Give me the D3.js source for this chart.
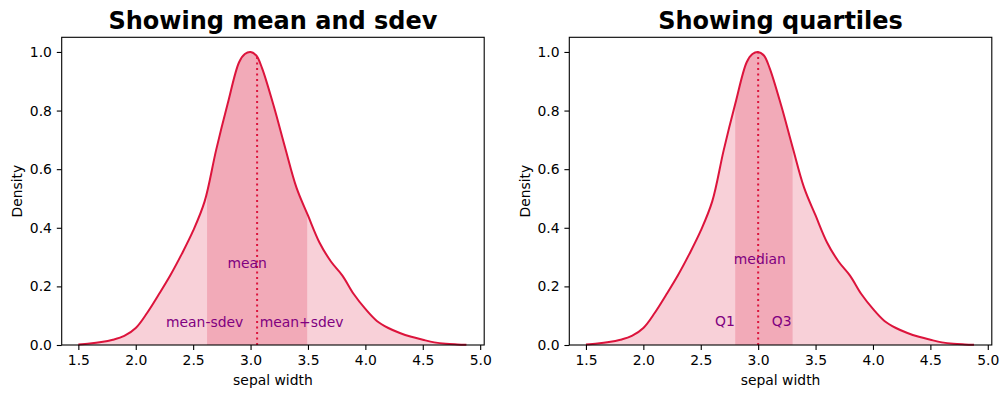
<!DOCTYPE html>
<html>
<head>
<meta charset="utf-8">
<script src="https://cdn.jsdelivr.net/npm/d3@7"></script>
<style>
  body { margin: 0; background: #fff; }
  text { font-family: "DejaVu Sans", sans-serif; }
</style>
</head>
<body>
<script>
// kde of sepal width, scaled so the peak is 1
const sepalX = [1.5, 1.6, 1.7, 1.8, 1.9, 2.0, 2.1, 2.2, 2.3, 2.4, 2.5, 2.6, 2.7, 2.8, 2.9, 2.95,
  3.0, 3.05, 3.1, 3.2, 3.3, 3.4, 3.5, 3.6, 3.7, 3.8, 3.9, 4.0, 4.1, 4.2, 4.3, 4.4, 4.5, 4.6, 4.7, 4.8, 4.88];
const density = [0.002, 0.005, 0.010, 0.018, 0.031, 0.058, 0.110, 0.172, 0.237, 0.310, 0.390, 0.490, 0.665, 0.822, 0.965, 0.993,
  1.000, 0.988, 0.945, 0.818, 0.675, 0.537, 0.442, 0.350, 0.285, 0.237, 0.173, 0.123, 0.082, 0.058, 0.041, 0.028, 0.018, 0.009, 0.004, 0.002, 0.001];

const xTicks = [1.5, 2.0, 2.5, 3.0, 3.5, 4.0, 4.5, 5.0];
const yTicks = [0.0, 0.2, 0.4, 0.6, 0.8, 1.0];

const meanVal = 3.057, sdevVal = 0.436;
const medianVal = 3.0, q1Val = 2.8, q3Val = 3.3;

const titles = ["Showing mean and sdev", "Showing quartiles"];
const bands = [[meanVal - sdevVal, meanVal + sdevVal], [q1Val, q3Val]];
const centres = [meanVal, medianVal];
const centreHeights = [0.985, 1.0];
const labelText = [["mean", "mean-sdev", "mean+sdev"], ["median", "Q1", "Q3"]];
const labelX = [[2.97, 2.60, 3.445], [3.015, 2.71, 3.205]];
const labelY = [[0.264, 0.061, 0.061], [0.275, 0.065, 0.065]];

const W = 1007, H = 398;
const panelLeft = [61.7, 569.3];
const plotTop = 37.3, pw = 422.5, ph = 307.7;
const crimson = "#dc143c";

const kde = sepalX.map((d, i) => ({x: d, y: density[i]}));

const svg = d3.select("body").append("svg")
  .attr("width", W).attr("height", H);
svg.append("rect").attr("width", W).attr("height", H).attr("fill", "#fff");

titles.forEach((title, p) => {
  const g = svg.append("g").attr("transform", "translate(" + panelLeft[p] + "," + plotTop + ")");

  const x = d3.scaleLinear().domain([1.355, 5.035]).range([0, pw]);
  const y = d3.scaleLinear().domain([0, 1.05]).range([ph, 0]);

  const area = d3.area().x(d => x(d.x)).y0(y(0)).y1(d => y(d.y)).curve(d3.curveCatmullRom.alpha(0.5));
  const line = d3.line().x(d => x(d.x)).y(d => y(d.y)).curve(d3.curveCatmullRom.alpha(0.5));

  // whole area, light
  g.append("path").datum(kde).attr("d", area).attr("fill", crimson).attr("fill-opacity", 0.2);

  // band between the two stats
  const clipId = "band" + p;
  g.append("clipPath").attr("id", clipId).append("rect")
    .attr("x", x(bands[p][0])).attr("y", 0)
    .attr("width", x(bands[p][1]) - x(bands[p][0])).attr("height", ph);
  g.append("path").datum(kde).attr("d", area)
    .attr("clip-path", "url(#" + clipId + ")")
    .attr("fill", crimson).attr("fill-opacity", 0.2);

  g.append("path").datum(kde).attr("d", line)
    .attr("fill", "none").attr("stroke", crimson).attr("stroke-width", 2);

  // dotted line at mean / median
  g.append("line")
    .attr("x1", x(centres[p])).attr("x2", x(centres[p]))
    .attr("y1", y(0)).attr("y2", y(centreHeights[p]))
    .attr("stroke", crimson).attr("stroke-width", 2)
    .attr("stroke-dasharray", "2.1,3.4");

  labelText[p].forEach((t, i) => {
    g.append("text")
      .attr("x", x(labelX[p][i])).attr("y", y(labelY[p][i]))
      .attr("text-anchor", "middle")
      .attr("fill", "purple")
      .style("font-size", "13.9px")
      .text(t);
  });

  // axes
  const xAxis = d3.axisBottom(x).tickValues(xTicks).tickFormat(d3.format(".1f"))
    .tickSize(4.9).tickPadding(4.9);
  const yAxis = d3.axisLeft(y).tickValues(yTicks).tickFormat(d3.format(".1f"))
    .tickSize(4.9).tickPadding(4.9);

  const gx = g.append("g").attr("transform", "translate(0," + ph + ")").call(xAxis);
  const gy = g.append("g").call(yAxis);
  [gx, gy].forEach(a => {
    a.select(".domain").remove();
    a.selectAll("line").attr("stroke", "#000").attr("stroke-width", 1.1);
    a.selectAll("text").attr("fill", "#000")
      .style("font-size", "13.9px").style("font-family", "DejaVu Sans, sans-serif");
  });

  g.append("rect").attr("width", pw).attr("height", ph)
    .attr("fill", "none").attr("stroke", "#000").attr("stroke-width", 1.1);

  g.append("text")
    .attr("x", pw / 2).attr("y", -8.3)
    .attr("text-anchor", "middle")
    .style("font-size", "24px").style("font-weight", "bold")
    .text(title);

  g.append("text")
    .attr("x", pw / 2).attr("y", 385 - plotTop)
    .attr("text-anchor", "middle")
    .style("font-size", "13.9px")
    .text("sepal width");

  g.append("text")
    .attr("transform", "translate(" + (22 - 61.7) + "," + (ph / 2) + ") rotate(-90)")
    .attr("text-anchor", "middle")
    .style("font-size", "13.9px")
    .text("Density");
});
</script>
</body>
</html>
